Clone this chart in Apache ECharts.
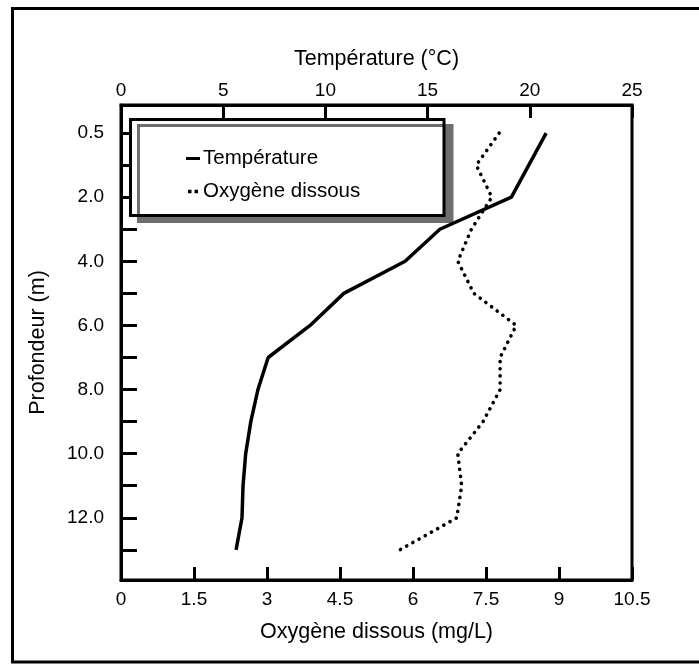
<!DOCTYPE html>
<html>
<head>
<meta charset="utf-8">
<script src="https://cdn.jsdelivr.net/npm/echarts@6/dist/echarts.min.js"></script>
<style>
  html, body { margin: 0; padding: 0; background: #fff; }
  #chart { width: 699px; height: 664px; }
</style>
</head>
<body>
<div id="chart"></div>
<script>
// Depth categories (m), from surface to bottom
const depthLabels = ['0.5', '1.0', '2.0', '3.0', '4.0', '5.0', '6.0', '7.0', '8.0', '9.0', '10.0', '11.0', '12.0', '13.0'];
// Depth labels shown on the vertical axis
const depthTickLabels = ['0.5', '2.0', '4.0', '6.0', '8.0', '10.0', '12.0'];
// Water temperature (°C) per depth; no reading at 1.0 m
const temperature = [20.8, null, 19.1, 15.6, 13.9, 10.9, 9.25, 7.2, 6.7, 6.35, 6.1, 5.97, 5.92, 5.63];
// Dissolved oxygen (mg/L) per depth
const oxygen = [7.77, 7.3, 7.62, 7.2, 6.92, 7.25, 8.12, 7.79, 7.79, 7.44, 6.92, 7.0, 6.9, 5.73];

const FONT = '"Liberation Sans", Arial, Helvetica, sans-serif';
const chart = echarts.init(document.getElementById('chart'), null, { renderer: 'canvas' });

const axisLine = { show: true, onZero: false, lineStyle: { color: '#000', width: 3 } };
const allDepthIdx = depthLabels.map((d, i) => i);
const labelDepthIdx = depthTickLabels.map(d => depthLabels.indexOf(d));

// Legend glyphs: a short solid bar and two dots, padded to a 14x14 box
const ICON_SOLID = 'path://M0,0L0,0M0,5.5L14,5.5L14,8.5L0,8.5ZM14,14L14,14';
const ICON_DOTS = 'path://M0,0L0,0M2,5.3L5.5,5.3L5.5,8.8L2,8.8ZM8.5,5.3L12,5.3L12,8.8L8.5,8.8ZM14,14L14,14';

const option = {
  animation: false,
  backgroundColor: '#fff',
  textStyle: { fontFamily: FONT, color: '#000' },
  grid: {
    left: 121, right: 67, top: 105, bottom: 84,
    show: true, borderColor: '#000', borderWidth: 3, backgroundColor: 'transparent'
  },
  xAxis: [
    {
      type: 'value', position: 'bottom', min: 0, max: 10.5, interval: 1.5,
      name: 'Oxygène dissous (mg/L)', nameLocation: 'middle', nameGap: 41,
      nameTextStyle: { fontSize: 21.5, color: '#000', fontFamily: FONT },
      axisLine: axisLine,
      axisTick: { show: true, inside: true, length: 13, lineStyle: { color: '#000', width: 3 } },
      axisLabel: { fontSize: 19, color: '#000', margin: 10, fontFamily: FONT },
      splitLine: { show: false }
    },
    {
      type: 'value', position: 'top', min: 0, max: 25, interval: 5,
      name: 'Température (°C)', nameLocation: 'middle', nameGap: 35,
      nameTextStyle: { fontSize: 21.5, color: '#000', fontFamily: FONT },
      axisLine: axisLine,
      axisTick: { show: true, inside: true, length: 13, lineStyle: { color: '#000', width: 3 } },
      axisLabel: { fontSize: 19, color: '#000', margin: 5, fontFamily: FONT },
      splitLine: { show: false }
    }
  ],
  yAxis: {
    type: 'value', inverse: true, min: -0.875, max: 13.94,
    name: 'Profondeur (m)', nameLocation: 'middle', nameGap: 72, nameRotate: 90,
    nameTextStyle: { fontSize: 21.5, color: '#000', fontFamily: FONT },
    axisLine: axisLine,
    axisTick: { show: true, inside: true, length: 16, customValues: allDepthIdx, lineStyle: { color: '#000', width: 3 } },
    axisLabel: {
      fontSize: 19, color: '#000', margin: 17, fontFamily: FONT,
      customValues: labelDepthIdx,
      formatter: v => depthLabels[Math.round(v)]
    },
    splitLine: { show: false }
  },
  legend: {
    orient: 'vertical', left: 186, top: 148, padding: 0,
    itemWidth: 14, itemHeight: 14, itemGap: 12,
    textStyle: { fontSize: 20.5, color: '#000', fontFamily: FONT, padding: [0, 0, 0, -2] },
    data: [
      { name: 'Température', icon: ICON_SOLID },
      { name: 'Oxygène dissous', icon: ICON_DOTS }
    ],
    z: 6
  },
  series: [
    {
      name: 'Température', type: 'line', xAxisIndex: 1, yAxisIndex: 0,
      data: temperature.map((t, i) => [t, i]).filter(p => p[0] !== null),
      symbol: 'none', showSymbol: false,
      lineStyle: { color: '#000', width: 3.5 },
      itemStyle: { color: '#000' }
    },
    {
      name: 'Oxygène dissous', type: 'line', xAxisIndex: 0, yAxisIndex: 0,
      data: oxygen.map((o, i) => [o, i]),
      symbol: 'none', showSymbol: false,
      lineStyle: { color: '#000', width: 3.6, type: [0.1, 7], cap: 'round' },
      itemStyle: { color: '#000' }
    }
  ],
  graphic: [
    {
      type: 'rect', silent: true, z: 10,
      shape: { x: 12.5, y: 8.5, width: 700, height: 653.5 },
      style: { fill: 'none', stroke: '#000', lineWidth: 3 }
    },
    {
      type: 'rect', silent: true, z: 3,
      shape: { x: 130.5, y: 119.5, width: 313.5, height: 96 },
      style: {
        fill: '#fff', stroke: '#000', lineWidth: 3,
        shadowColor: '#6e6e6e', shadowBlur: 0, shadowOffsetX: 8, shadowOffsetY: 6
      }
    }
  ]
};

chart.setOption(option);
</script>
</body>
</html>
